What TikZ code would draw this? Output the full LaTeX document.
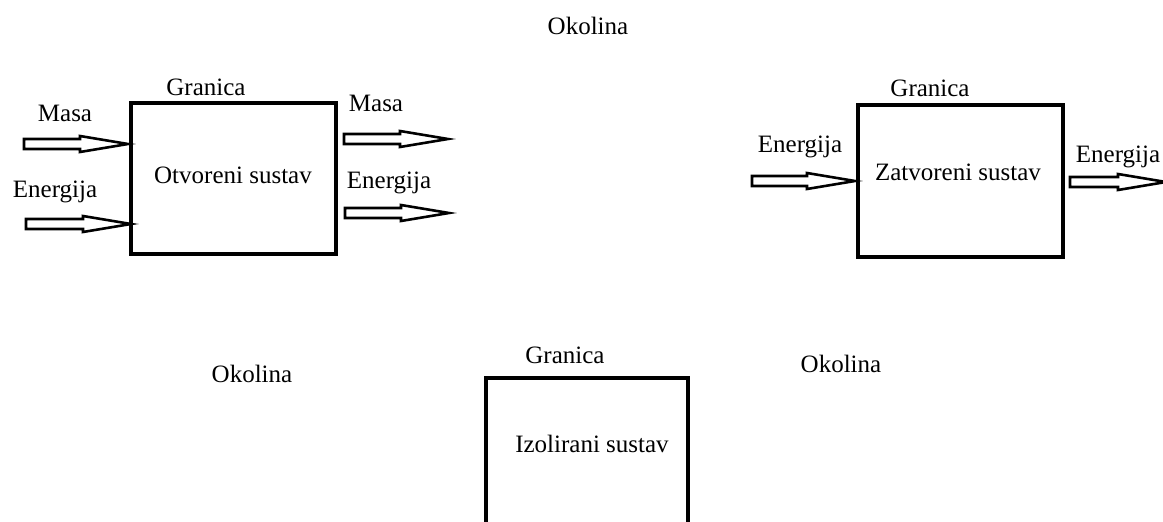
\documentclass[tikz,border=0pt]{standalone}
\usepackage{fontspec}
\setmainfont{Liberation Serif}
\newcommand\hollowarrow[3]{%
  \draw[harrow] (#1,#3-5) -- ({#2-48},#3-5) -- ({#2-48},#3-8) -- (#2,#3) -- ({#2-48},#3+8) -- ({#2-48},#3+5) -- (#1,#3+5) -- cycle;}
\begin{document}
\begin{tikzpicture}[x=1pt,y=-1pt,
  lbl/.style={font=\fontsize{25}{30}\selectfont, inner sep=0pt, text=black},
  sysbox/.style={draw=black, line width=3.5pt},
  harrow/.style={draw=black, line width=2.6pt, fill=white, line join=miter}]
\useasboundingbox (0,0) rectangle (1163,522);
% open system
\draw[sysbox] (131,103) rectangle (336,254);
\node[lbl] (g1) at (206,87) {Granica};
\node[lbl] (o1) at (233,175) {Otvoreni sustav};
\node[lbl] (m1) at (65,113) {Masa};
\node[lbl] (e1) at (55,192) {Energija};
\node[lbl] (m2) at (376,103) {Masa};
\node[lbl] (e2) at (389,183) {Energija};
\hollowarrow{24}{128}{144}
\hollowarrow{26}{131}{224}
\hollowarrow{344}{448}{139}
\hollowarrow{345}{449}{213}
% top label
\node[lbl] (ok1) at (588,26) {Okolina};
% closed system
\draw[sysbox] (858,105) rectangle (1063,257);
\node[lbl] (g2) at (930,88) {Granica};
\node[lbl] (z1) at (958,172) {Zatvoreni sustav};
\node[lbl] (e3) at (800,147) {Energija};
\node[lbl] (e4) at (1118,157) {Energija};
\hollowarrow{752}{855}{181}
\hollowarrow{1070}{1166}{182}
% isolated system
\node[lbl] (ok2) at (252,374) {Okolina};
\node[lbl] (ok3) at (841,364) {Okolina};
\node[lbl] (g3) at (565,355) {Granica};
\draw[sysbox] (486,530) -- (486,378) -- (688,378) -- (688,530);
\node[lbl] (iz) at (592,444) {Izolirani sustav};
\end{tikzpicture}
\end{document}
